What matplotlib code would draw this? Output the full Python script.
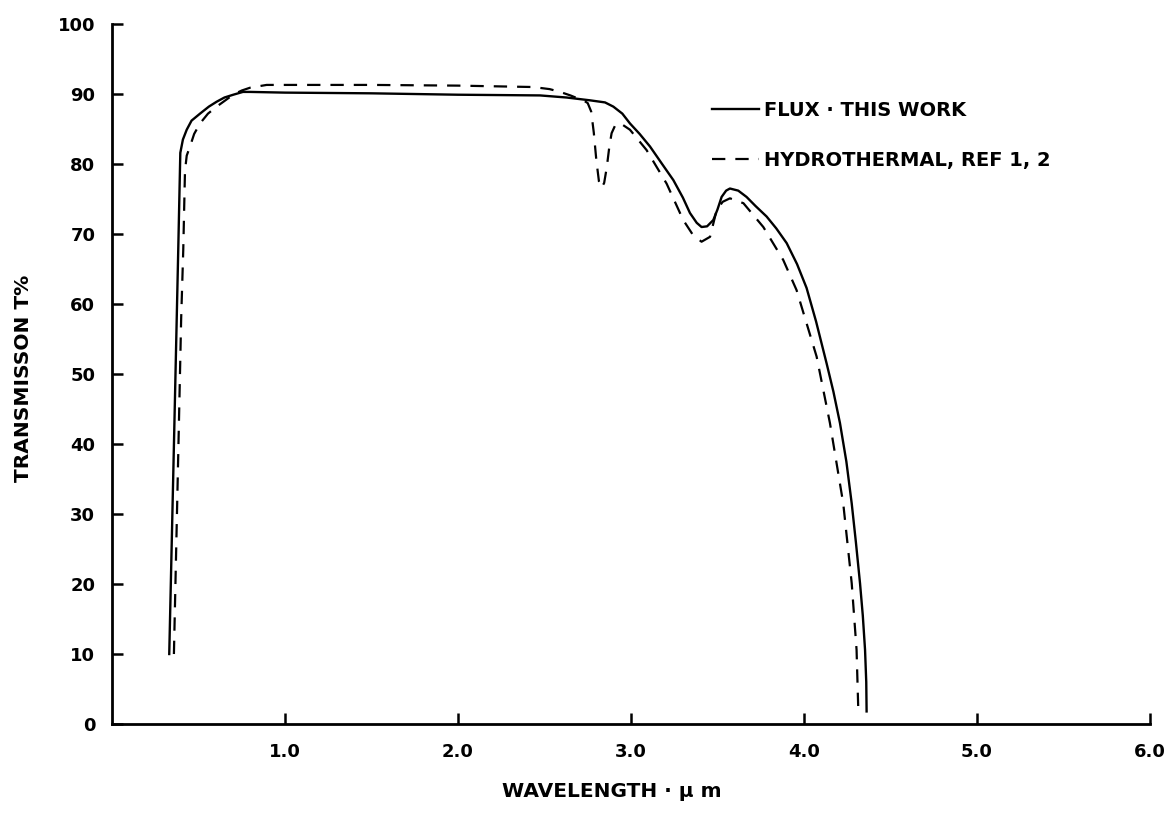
import matplotlib
matplotlib.use("Agg")
import matplotlib.pyplot as plt

# transmission curves
flux_wl = [0.331, 0.36, 0.383, 0.395, 0.41, 0.432, 0.46, 0.509, 0.56, 0.605, 0.65,
           0.701, 0.757, 0.8, 1.0, 1.5, 2.0, 2.474, 2.628, 2.763, 2.85, 2.898,
           2.95, 2.994, 3.05, 3.11, 3.18, 3.245, 3.3, 3.341, 3.38, 3.408, 3.44,
           3.476, 3.50, 3.524, 3.55, 3.572, 3.62, 3.668, 3.72, 3.784, 3.84, 3.9,
           3.96, 4.015, 4.07, 4.131, 4.17, 4.208, 4.245, 4.276, 4.30, 4.324,
           4.34, 4.353, 4.36, 4.362]
flux_t = [10, 42, 67.7, 81.6, 83.5, 84.9, 86.2, 87.2, 88.2, 88.9, 89.5,
          89.9, 90.3, 90.3, 90.2, 90.1, 89.9, 89.8, 89.5, 89.1, 88.8, 88.2,
          87.2, 85.8, 84.3, 82.5, 80.0, 77.7, 75.2, 73.0, 71.6, 71.0, 71.1,
          72.0, 73.5, 75.3, 76.2, 76.5, 76.2, 75.3, 74.0, 72.5, 70.8, 68.7,
          65.7, 62.3, 57.5, 51.5, 47.5, 43, 37.5, 31.5, 26, 20.1,
          15.5, 10.6, 6, 1.8]

hydro_wl = [0.358, 0.38, 0.40, 0.412, 0.422, 0.432, 0.451, 0.475, 0.509, 0.555,
            0.605, 0.65, 0.70, 0.75, 0.798, 0.894, 1.5, 2.0, 2.434, 2.53, 2.59,
            2.65, 2.70, 2.725, 2.75, 2.77, 2.785, 2.80, 2.815, 2.83, 2.845, 2.86,
            2.875, 2.888, 2.91, 2.94, 2.994, 3.09, 3.206, 3.302, 3.36, 3.408,
            3.457, 3.495, 3.53, 3.572, 3.65, 3.765, 3.88, 3.957, 4.073, 4.15,
            4.227, 4.276, 4.304, 4.314]
hydro_t = [10, 35, 58, 67.7, 79, 81.2, 82.5, 84.3, 85.8, 87.2,
           88.2, 89.0, 89.9, 90.5, 90.9, 91.3, 91.3, 91.2, 91.0, 90.7, 90.3,
           89.8, 89.3, 89.1, 88.7, 87.5, 84.5, 80.5, 77.5, 76.6, 77.3, 79.5,
           82.5, 84.4, 85.6, 85.8, 84.9, 82, 77.2, 72, 69.8, 68.9,
           69.6, 73.4, 74.6, 75.1, 74.4, 71, 66.3, 62, 52.5, 43,
           31.5, 20.1, 10.6, 2]

xticks = [1, 2, 3, 4, 5, 6]
xtick_labels = ["1.0", "2.0", "3.0", "4.0", "5.0", "6.0"]
yticks = list(range(0, 101, 10))

plt.rcParams['font.family'] = ['DejaVu Sans']
plt.rcParams['font.weight'] = 'bold'

fig = plt.figure(figsize=(11.75, 8.17), dpi=100)
ax = fig.add_axes([0.0953, 0.1138, 0.8834, 0.8568])

ax.plot(flux_wl, flux_t, color='black', lw=1.7, label='FLUX · THIS WORK')
dashed, = ax.plot(hydro_wl, hydro_t, color='black', lw=1.6,
                  label='HYDROTHERMAL, REF 1, 2')
dashed.set_dashes((6, 4.5))

ax.set_xlim(0, 6)
ax.set_ylim(0, 100)
ax.spines['top'].set_visible(False)
ax.spines['right'].set_visible(False)
ax.spines['left'].set_linewidth(2)
ax.spines['bottom'].set_linewidth(2)

ax.set_xticks(xticks)
ax.set_xticklabels(xtick_labels)
ax.set_yticks(yticks)
ax.tick_params(axis='both', direction='in', length=8, width=1.8,
               labelsize=13)
ax.tick_params(axis='x', pad=14)
ax.tick_params(axis='y', pad=12)

ax.set_xlabel("WAVELENGTH · μ m", fontsize=14.5, fontweight='bold',
              va='center', ha='center')
ax.xaxis.set_label_coords(0.482, -0.097)
ax.set_ylabel("TRANSMISSON T%", fontsize=14.5, fontweight='bold',
              va='center', ha='center')
ax.yaxis.set_label_coords(-0.0857, 0.494)

ax.legend(loc='upper left', bbox_to_anchor=(0.578, 0.89), frameon=False,
          fontsize=14, handlelength=2.4, handletextpad=0.3,
          borderaxespad=0, borderpad=0, labelspacing=1.6)

fig.savefig("out.png", dpi=100)
